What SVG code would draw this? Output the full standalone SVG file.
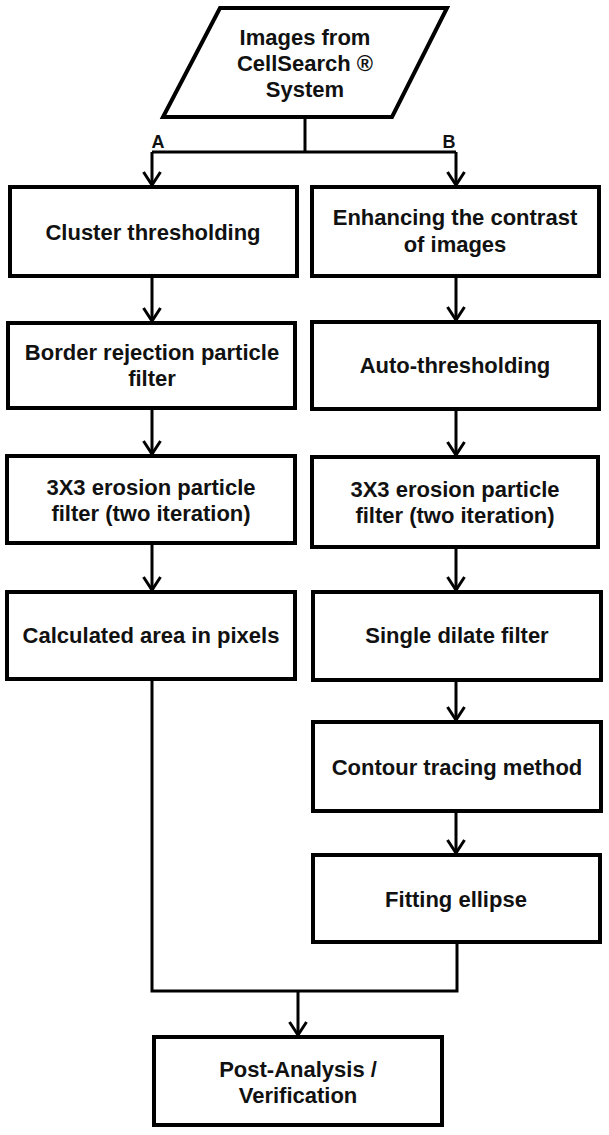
<svg xmlns="http://www.w3.org/2000/svg" width="609" height="1135" viewBox="0 0 609 1135">
<style>
.box{fill:#fff;stroke:#000;stroke-width:4;stroke-linejoin:miter}
.t{font-family:"Liberation Sans",Arial,sans-serif;font-weight:bold;font-size:22px;fill:#111;text-anchor:middle}
.lbl{font-family:"Liberation Sans",Arial,sans-serif;font-weight:bold;font-size:18px;fill:#111;text-anchor:middle}
.c{fill:none;stroke:#000;stroke-width:3}
</style>
<defs>
<marker id="arr" markerUnits="userSpaceOnUse" markerWidth="24" markerHeight="24" viewBox="-16 -12 24 24" refX="0" refY="0" orient="auto" overflow="visible">
<path d="M-13,-8.5 L0,0 L-13,8.5" fill="none" stroke="#000" stroke-width="3"/>
</marker>
</defs>
<rect width="609" height="1135" fill="#fff"/>
<g id="connectors">
<path class="c" d="M305,117 V152"/>
<path class="c" d="M152,152 H456"/>
<path class="c" d="M152,152 V185" marker-end="url(#arr)"/>
<path class="c" d="M456,152 V185" marker-end="url(#arr)"/>
<path class="c" d="M152,276 V321" marker-end="url(#arr)"/>
<path class="c" d="M152,408 V454" marker-end="url(#arr)"/>
<path class="c" d="M152,543 V590" marker-end="url(#arr)"/>
<path class="c" d="M456,276 V320" marker-end="url(#arr)"/>
<path class="c" d="M456,409 V455" marker-end="url(#arr)"/>
<path class="c" d="M456,547 V590" marker-end="url(#arr)"/>
<path class="c" d="M456,680 V720" marker-end="url(#arr)"/>
<path class="c" d="M456,811 V853" marker-end="url(#arr)"/>
<path class="c" d="M152,679 V991 H457 V942"/>
<path class="c" d="M298,991 V1035" marker-end="url(#arr)"/>
</g>
<g id="labels">
<text class="lbl" x="158" y="148">A</text>
<text class="lbl" x="449" y="148">B</text>
</g>
<g id="input">
<polygon class="box" points="220,8 447,8 392,117 163,117"/>
<text class="t" x="305" y="45">Images from</text>
<text class="t" x="305" y="71">CellSearch ®</text>
<text class="t" x="305" y="97">System</text>
</g>
<g id="cluster">
<rect class="box" x="10" y="187" width="287" height="89"/>
<text class="t" x="153" y="240">Cluster thresholding</text>
</g>
<g id="border">
<rect class="box" x="8" y="323" width="287" height="85"/>
<text class="t" x="152" y="360">Border rejection particle</text>
<text class="t" x="152" y="386">filter</text>
</g>
<g id="erosionA">
<rect class="box" x="7" y="456" width="288" height="87"/>
<text class="t" x="151" y="495">3X3 erosion particle</text>
<text class="t" x="151" y="521">filter (two iteration)</text>
</g>
<g id="area">
<rect class="box" x="7" y="592" width="288" height="87"/>
<text class="t" x="151" y="643">Calculated area in pixels</text>
</g>
<g id="enhance">
<rect class="box" x="312" y="187" width="287" height="89"/>
<text class="t" x="455" y="225">Enhancing the contrast</text>
<text class="t" x="455" y="252">of images</text>
</g>
<g id="auto">
<rect class="box" x="312" y="322" width="287" height="87"/>
<text class="t" x="455" y="373">Auto-thresholding</text>
</g>
<g id="erosionB">
<rect class="box" x="312" y="457" width="286" height="90"/>
<text class="t" x="455" y="497">3X3 erosion particle</text>
<text class="t" x="455" y="523">filter (two iteration)</text>
</g>
<g id="dilate">
<rect class="box" x="313" y="592" width="288" height="88"/>
<text class="t" x="457" y="643">Single dilate filter</text>
</g>
<g id="contour">
<rect class="box" x="313" y="722" width="288" height="89"/>
<text class="t" x="457" y="775">Contour tracing method</text>
</g>
<g id="ellipse">
<rect class="box" x="313" y="855" width="287" height="87"/>
<text class="t" x="456" y="907">Fitting ellipse</text>
</g>
<g id="post">
<rect class="box" x="154" y="1037" width="288" height="88"/>
<text class="t" x="298" y="1077">Post-Analysis /</text>
<text class="t" x="298" y="1103">Verification</text>
</g>
</svg>
